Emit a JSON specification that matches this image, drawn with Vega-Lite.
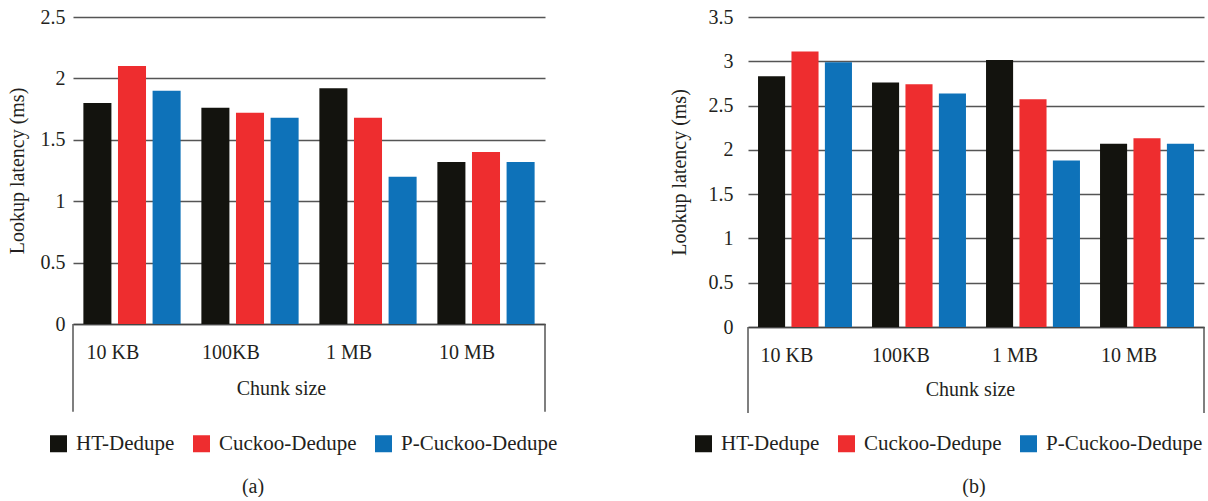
{
  "$schema": "https://vega.github.io/schema/vega-lite/v6.json",
  "padding": {"left": 7, "top": 7, "right": 0, "bottom": 0},
  "background": "white",
  "spacing": 111,
  "config": {
    "view": {"stroke": null},
    "font": "Liberation Serif",
    "axis": {"labelColor": "#231f20", "titleColor": "#231f20", "labelFont": "Liberation Serif", "titleFont": "Liberation Serif"},
    "legend": {"labelColor": "#231f20", "labelFont": "Liberation Serif"}
  },
  "resolve": {"scale": {"color": "independent", "xOffset": "independent"}, "legend": {"color": "independent"}},
  "datasets": {
    "a": [
      {"chunk": "10 KB", "series": "HT-Dedupe", "latency": 1.80},
      {"chunk": "10 KB", "series": "Cuckoo-Dedupe", "latency": 2.10},
      {"chunk": "10 KB", "series": "P-Cuckoo-Dedupe", "latency": 1.90},
      {"chunk": "100KB", "series": "HT-Dedupe", "latency": 1.76},
      {"chunk": "100KB", "series": "Cuckoo-Dedupe", "latency": 1.72},
      {"chunk": "100KB", "series": "P-Cuckoo-Dedupe", "latency": 1.68},
      {"chunk": "1 MB", "series": "HT-Dedupe", "latency": 1.92},
      {"chunk": "1 MB", "series": "Cuckoo-Dedupe", "latency": 1.68},
      {"chunk": "1 MB", "series": "P-Cuckoo-Dedupe", "latency": 1.20},
      {"chunk": "10 MB", "series": "HT-Dedupe", "latency": 1.32},
      {"chunk": "10 MB", "series": "Cuckoo-Dedupe", "latency": 1.40},
      {"chunk": "10 MB", "series": "P-Cuckoo-Dedupe", "latency": 1.32}
    ],
    "b": [
      {"chunk": "10 KB", "series": "HT-Dedupe", "latency": 2.83},
      {"chunk": "10 KB", "series": "Cuckoo-Dedupe", "latency": 3.11},
      {"chunk": "10 KB", "series": "P-Cuckoo-Dedupe", "latency": 2.99},
      {"chunk": "100KB", "series": "HT-Dedupe", "latency": 2.76},
      {"chunk": "100KB", "series": "Cuckoo-Dedupe", "latency": 2.74},
      {"chunk": "100KB", "series": "P-Cuckoo-Dedupe", "latency": 2.635},
      {"chunk": "1 MB", "series": "HT-Dedupe", "latency": 3.015},
      {"chunk": "1 MB", "series": "Cuckoo-Dedupe", "latency": 2.57},
      {"chunk": "1 MB", "series": "P-Cuckoo-Dedupe", "latency": 1.88},
      {"chunk": "10 MB", "series": "HT-Dedupe", "latency": 2.07},
      {"chunk": "10 MB", "series": "Cuckoo-Dedupe", "latency": 2.13},
      {"chunk": "10 MB", "series": "P-Cuckoo-Dedupe", "latency": 2.07}
    ]
  },
  "hconcat": [
    {
      "width": 472,
      "height": 307,
      "title": {"text": "(a)", "orient": "bottom", "dx": -56, "offset": 23, "fontSize": 20, "fontWeight": "normal", "color": "#231f20", "font": "Liberation Serif"},
      "data": {"name": "a"},
      "layer": [
        {
          "mark": {"type": "bar"},
          "encoding": {
            "x": {
              "field": "chunk", "type": "nominal",
              "sort": ["10 KB", "100KB", "1 MB", "10 MB"],
              "scale": {"domain": ["10 KB", "100KB", "1 MB", "10 MB"], "paddingInner": 0, "paddingOuter": 0},
              "axis": {"title": "Chunk size", "domain": true, "domainColor": "#444444", "domainWidth": 1.5, "ticks": false, "grid": false, "labelAngle": 0, "labelPadding": 18, "labelOffset": -19, "labelFontSize": 20, "titleFontSize": 20, "titleFontWeight": "normal", "titlePadding": 16, "titleX": 208}
            },
            "xOffset": {"field": "series", "type": "nominal", "sort": ["HT-Dedupe", "Cuckoo-Dedupe", "P-Cuckoo-Dedupe"], "scale": {"paddingInner": 0.19, "paddingOuter": 0.3}},
            "y": {
              "field": "latency", "type": "quantitative",
              "scale": {"domain": [0, 2.5], "nice": false, "zero": false},
              "axis": {"title": "Lookup latency (ms)", "values": [0, 0.5, 1, 1.5, 2, 2.5], "format": "~g", "domain": false, "ticks": false, "grid": true, "gridColor": "#555555", "gridWidth": 1.5, "labelPadding": 8, "titlePadding": 13, "labelFontSize": 20, "titleFontSize": 20, "titleFontWeight": "normal"}
            },
            "color": {
              "field": "series", "type": "nominal",
              "sort": ["HT-Dedupe", "Cuckoo-Dedupe", "P-Cuckoo-Dedupe"],
              "scale": {"domain": ["HT-Dedupe", "Cuckoo-Dedupe", "P-Cuckoo-Dedupe"], "range": ["#13130e", "#ee2d2f", "#0e72b9"]},
              "legend": {"title": null, "orient": "none", "direction": "horizontal", "legendX": -25, "legendY": 416, "padding": 0, "symbolType": "square", "symbolSize": 289, "symbolStrokeWidth": 0, "symbolOpacity": 1, "labelFontSize": 21, "labelOffset": 7, "columnPadding": 16, "labelLimit": 300}
            }
          }
        },
        {
          "transform": [{"filter": "datum.chunk == '10 KB' && datum.series == 'HT-Dedupe'"}],
          "mark": {"type": "rule", "color": "#555555", "strokeWidth": 1.5},
          "encoding": {
            "x": {"field": "chunk", "type": "nominal", "sort": ["10 KB", "100KB", "1 MB", "10 MB"], "bandPosition": 0},
            "y": {"datum": 0},
            "y2": {"datum": -0.715}
          }
        },
        {
          "transform": [{"filter": "datum.chunk == '10 MB' && datum.series == 'HT-Dedupe'"}],
          "mark": {"type": "rule", "color": "#555555", "strokeWidth": 1.5},
          "encoding": {
            "x": {"field": "chunk", "type": "nominal", "sort": ["10 KB", "100KB", "1 MB", "10 MB"], "bandPosition": 1},
            "y": {"datum": 0},
            "y2": {"datum": -0.715}
          }
        }
      ]
    },
    {
      "width": 456,
      "height": 310,
      "title": {"text": "(b)", "orient": "bottom", "dx": -2, "offset": 23, "fontSize": 20, "fontWeight": "normal", "color": "#231f20", "font": "Liberation Serif"},
      "data": {"name": "b"},
      "layer": [
        {
          "mark": {"type": "bar"},
          "encoding": {
            "x": {
              "field": "chunk", "type": "nominal",
              "sort": ["10 KB", "100KB", "1 MB", "10 MB"],
              "scale": {"domain": ["10 KB", "100KB", "1 MB", "10 MB"], "paddingInner": 0, "paddingOuter": 0},
              "axis": {"title": "Chunk size", "domain": true, "domainColor": "#444444", "domainWidth": 1.5, "ticks": false, "grid": false, "labelAngle": 0, "labelPadding": 18, "labelOffset": -18, "labelFontSize": 20, "titleFontSize": 20, "titleFontWeight": "normal", "titlePadding": 14, "titleX": 222}
            },
            "xOffset": {"field": "series", "type": "nominal", "sort": ["HT-Dedupe", "Cuckoo-Dedupe", "P-Cuckoo-Dedupe"], "scale": {"paddingInner": 0.19, "paddingOuter": 0.3}},
            "y": {
              "field": "latency", "type": "quantitative",
              "scale": {"domain": [0, 3.5], "nice": false, "zero": false},
              "axis": {"title": "Lookup latency (ms)", "values": [0, 0.5, 1, 1.5, 2, 2.5, 3, 3.5], "format": "~g", "domain": false, "ticks": false, "grid": true, "gridColor": "#555555", "gridWidth": 1.5, "labelPadding": 15, "titlePadding": 19, "labelFontSize": 20, "titleFontSize": 20, "titleFontWeight": "normal"}
            },
            "color": {
              "field": "series", "type": "nominal",
              "sort": ["HT-Dedupe", "Cuckoo-Dedupe", "P-Cuckoo-Dedupe"],
              "scale": {"domain": ["HT-Dedupe", "Cuckoo-Dedupe", "P-Cuckoo-Dedupe"], "range": ["#13130e", "#ee2d2f", "#0e72b9"]},
              "legend": {"title": null, "orient": "none", "direction": "horizontal", "legendX": -55, "legendY": 416, "padding": 0, "symbolType": "square", "symbolSize": 289, "symbolStrokeWidth": 0, "symbolOpacity": 1, "labelFontSize": 21, "labelOffset": 7, "columnPadding": 16, "labelLimit": 300}
            }
          }
        },
        {
          "transform": [{"filter": "datum.chunk == '10 KB' && datum.series == 'HT-Dedupe'"}],
          "mark": {"type": "rule", "color": "#555555", "strokeWidth": 1.5},
          "encoding": {
            "x": {"field": "chunk", "type": "nominal", "sort": ["10 KB", "100KB", "1 MB", "10 MB"], "bandPosition": 0},
            "y": {"datum": 0},
            "y2": {"datum": -0.97}
          }
        },
        {
          "transform": [{"filter": "datum.chunk == '10 MB' && datum.series == 'HT-Dedupe'"}],
          "mark": {"type": "rule", "color": "#555555", "strokeWidth": 1.5},
          "encoding": {
            "x": {"field": "chunk", "type": "nominal", "sort": ["10 KB", "100KB", "1 MB", "10 MB"], "bandPosition": 1},
            "y": {"datum": 0},
            "y2": {"datum": -0.97}
          }
        }
      ]
    }
  ]
}
